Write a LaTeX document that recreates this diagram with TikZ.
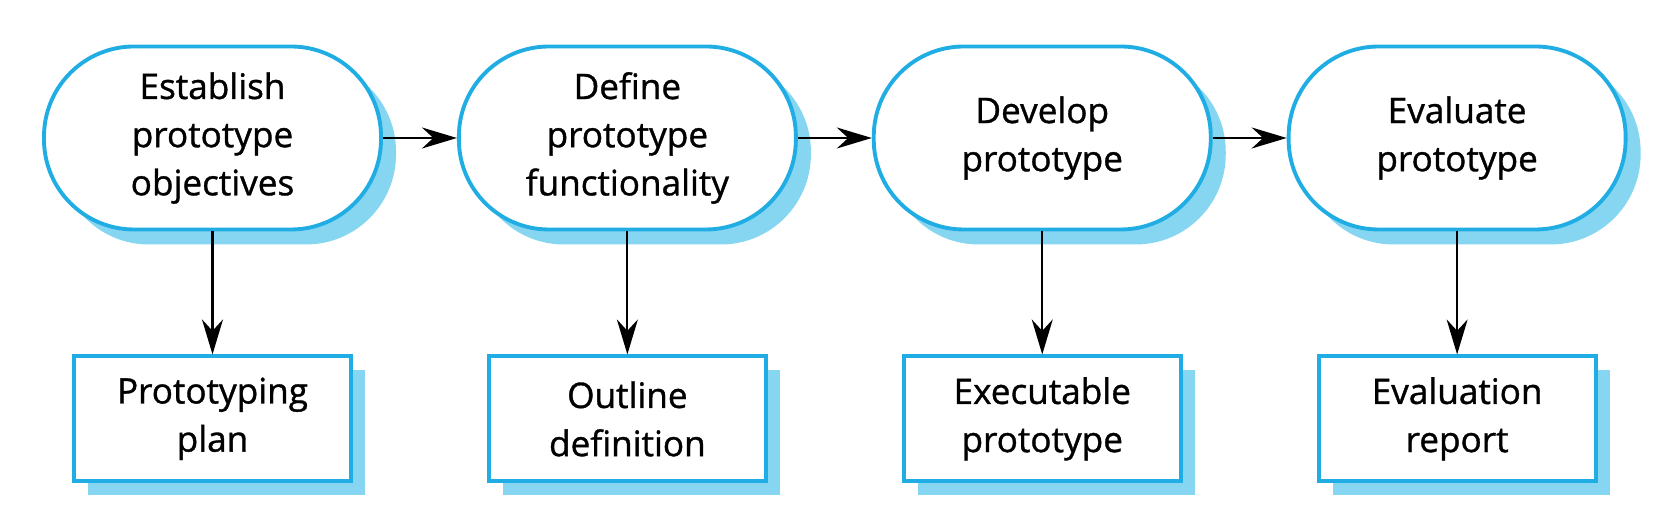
\documentclass[tikz,border=0pt]{standalone}
\usepackage{fontspec}
\setmainfont{Open Sans}[FakeBold=1]
\usetikzlibrary{arrows.meta,positioning,shadows}
\definecolor{lineblue}{HTML}{1FADE4}
\definecolor{shadeblue}{HTML}{86D6F2}

\begin{document}
\begin{tikzpicture}[>={Stealth[length=3.5mm, width=2.1mm]},
  stage/.style={draw=lineblue, line width=1.1pt, fill=white, rounded corners=9mm,
    minimum width=3.37cm, minimum height=1.83cm, align=center,
    font=\fontsize{10pt}{13.7pt}\selectfont,
    drop shadow={shadow xshift=1.5mm, shadow yshift=-1.5mm, fill=shadeblue, opacity=1}},
  result/.style={draw=lineblue, line width=1.1pt, fill=white,
    minimum width=2.77cm, minimum height=1.25cm, align=center,
    font=\fontsize{10pt}{13.7pt}\selectfont,
    drop shadow={shadow xshift=1.4mm, shadow yshift=-1.4mm, fill=shadeblue, opacity=1}},
  flow/.style={->, line width=0.6pt}]
  \useasboundingbox (0,0) rectangle (16.64,-5.18);

  % Prototyping activities
  \node[stage] (est) at (2.125,-1.38) {Establish\\prototype\\objectives};
  \node[stage, right=0.74cm of est] (def) {Define\\prototype\\functionality};
  \node[stage, right=0.74cm of def] (dev) {Develop\\prototype};
  \node[stage, right=0.74cm of dev] (eva) {Evaluate\\prototype};

  % Deliverables
  \node[result, below=1.23cm of est] (plan) {Prototyping\\plan};
  \node[result, below=1.23cm of def] (outline) {Outline\\definition};
  \node[result, below=1.23cm of dev] (exe) {Executable\\prototype};
  \node[result, below=1.23cm of eva] (report) {Evaluation\\report};

  % Arrows
  \foreach \a/\b in {est/def, def/dev, dev/eva}
    \draw[flow] (\a) -- (\b);
  \foreach \a/\b in {est/plan, def/outline, dev/exe, eva/report}
    \draw[flow] (\a) -- (\b);
\end{tikzpicture}
\end{document}
